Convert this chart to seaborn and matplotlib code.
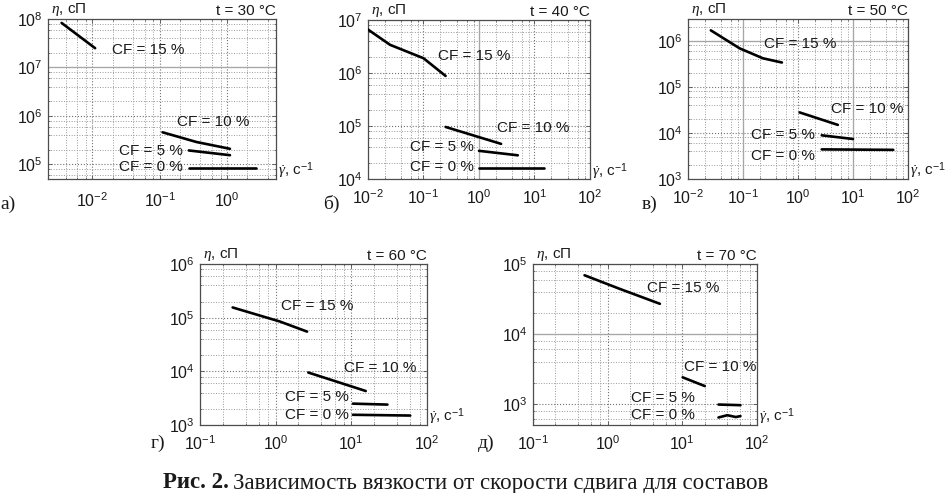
import matplotlib
matplotlib.use("Agg")
import matplotlib.pyplot as plt
import matplotlib.ticker as mticker
import pandas as pd
import seaborn as sns

TEMPS = [30, 40, 50, 60, 70]
PANEL_LETTERS = ["а)", "б)", "в)", "г)", "д)"]
SERIES = ["CF = 15 %", "CF = 10 %", "CF = 5 %", "CF = 0 %"]

# t = 30 °C
T30_CF15_X = [3.5e-3, 1.1e-2]
T30_CF15_Y = [8.3e7, 2.5e7]
T30_CF10_X = [0.11, 0.35, 1.1]
T30_CF10_Y = [4.6e5, 2.9e5, 2.1e5]
T30_CF5_X = [0.27, 1.1]
T30_CF5_Y = [1.94e5, 1.55e5]
T30_CF0_X = [0.27, 2.7]
T30_CF0_Y = [8.3e4, 8.3e4]

# t = 40 °C
T40_CF15_X = [0.01, 0.025, 0.1, 0.25]
T40_CF15_Y = [6.6e6, 3.4e6, 1.9e6, 8.8e5]
T40_CF10_X = [0.25, 2.5]
T40_CF10_Y = [9.6e4, 4.6e4]
T40_CF5_X = [1.0, 5.0]
T40_CF5_Y = [3.4e4, 2.8e4]
T40_CF0_X = [1.0, 15]
T40_CF0_Y = [1.6e4, 1.6e4]

# t = 50 °C
T50_CF15_X = [0.026, 0.087, 0.23, 0.51]
T50_CF15_Y = [1.7e6, 6.9e5, 4.2e5, 3.4e5]
T50_CF10_X = [1.07, 5.3]
T50_CF10_Y = [2.8e4, 1.5e4]
T50_CF5_X = [2.7, 10]
T50_CF5_Y = [8.9e3, 7.4e3]
T50_CF0_X = [2.7, 54]
T50_CF0_Y = [4.4e3, 4.3e3]

# t = 60 °C
T60_CF15_X = [0.27, 1.13, 2.6]
T60_CF15_Y = [1.55e5, 8.5e4, 5.5e4]
T60_CF10_X = [2.7, 15.5]
T60_CF10_Y = [9.5e3, 4.3e3]
T60_CF5_X = [10.5, 30]
T60_CF5_Y = [2.5e3, 2.4e3]
T60_CF0_X = [10.5, 60]
T60_CF0_Y = [1.55e3, 1.5e3]

# t = 70 °C
T70_CF15_X = [0.49, 1.46, 5.0]
T70_CF15_Y = [6.9e4, 4.4e4, 2.7e4]
T70_CF10_X = [10.1, 20]
T70_CF10_Y = [2.4e3, 1.8e3]
T70_CF5_X = [30.5, 60]
T70_CF5_Y = [9.8e2, 9.6e2]
T70_CF0_X = [30.5, 40, 52, 60]
T70_CF0_Y = [6.4e2, 6.9e2, 6.5e2, 6.7e2]

DATA = {
    30: [(T30_CF15_X, T30_CF15_Y), (T30_CF10_X, T30_CF10_Y), (T30_CF5_X, T30_CF5_Y), (T30_CF0_X, T30_CF0_Y)],
    40: [(T40_CF15_X, T40_CF15_Y), (T40_CF10_X, T40_CF10_Y), (T40_CF5_X, T40_CF5_Y), (T40_CF0_X, T40_CF0_Y)],
    50: [(T50_CF15_X, T50_CF15_Y), (T50_CF10_X, T50_CF10_Y), (T50_CF5_X, T50_CF5_Y), (T50_CF0_X, T50_CF0_Y)],
    60: [(T60_CF15_X, T60_CF15_Y), (T60_CF10_X, T60_CF10_Y), (T60_CF5_X, T60_CF5_Y), (T60_CF0_X, T60_CF0_Y)],
    70: [(T70_CF15_X, T70_CF15_Y), (T70_CF10_X, T70_CF10_Y), (T70_CF5_X, T70_CF5_Y), (T70_CF0_X, T70_CF0_Y)],
}

XLIMS = [(2.2e-3, 5.3), (1e-2, 1e2), (1e-2, 1e2), (1e-1, 1e2), (1e-1, 1e2)]
YLIMS = [(5e4, 1e8), (1e4, 1e7), (1e3, 3e6), (1e3, 1e6), (5e2, 1e5)]
# solid grey grid lines seen in the original
SOLID_H = [[1e7], [], [1e6], [], [1e4]]
SOLID_V = [[], [1e0], [1e-1, 1e1], [], []]

# layout, in pixels of the 953x493 picture
W, H = 953, 493
AX_BOXES = [(48, 19, 276, 179), (368, 20, 590, 179), (688, 19, 908, 179),
            (200, 264, 427, 425), (533, 264, 757, 425)]
CF_LABEL_POS = [
    [(148, 50), (213, 122), (151, 151), (151, 167)],
    [(474, 56), (533, 128), (442, 147), (442, 167)],
    [(800, 44), (867, 109), (783, 135), (783, 156)],
    [(317, 306), (380, 368), (317, 397), (317, 415)],
    [(683, 288), (720, 367), (663, 398), (663, 415)],
]
LETTER_POS = [(8, 204), (331, 204), (650, 204), (158, 443), (486, 443)]
XTICK_PAD = [9, 7, 7, 7, 7]

sns.set_theme(style="ticks")
plt.rcParams["font.family"] = ["Liberation Sans", "DejaVu Sans"]
plt.rcParams["mathtext.fontset"] = "custom"
plt.rcParams["mathtext.rm"] = "Liberation Sans"
plt.rcParams["mathtext.it"] = "Liberation Serif:italic"


def fx(px):
    return px / W


def fy(py):
    return 1 - py / H


fig = plt.figure(figsize=(W / 100, H / 100), dpi=100)
fig.patch.set_facecolor("white")

for i, t in enumerate(TEMPS):
    l, tp, r, b = AX_BOXES[i]
    ax = fig.add_axes([fx(l), fy(b), (r - l) / W, (b - tp) / H])
    rows = []
    for name, (xs, ys) in zip(SERIES, DATA[t]):
        for x, y in zip(xs, ys):
            rows.append({"series": name, "x": x, "y": y})
    df = pd.DataFrame(rows)
    ax.set_xscale("log")
    ax.set_yscale("log")
    sns.lineplot(df, x="x", y="y", units="series", estimator=None, sort=False,
                 color="black", lw=1.9, ax=ax, zorder=5)
    ax.set_xlim(XLIMS[i])
    ax.set_ylim(YLIMS[i])
    ax.set_xlabel("")
    ax.set_ylabel("")
    ax.xaxis.set_major_locator(mticker.LogLocator(base=10, numticks=20))
    ax.yaxis.set_major_locator(mticker.LogLocator(base=10, numticks=20))
    ax.xaxis.set_minor_locator(mticker.LogLocator(base=10, subs=(2, 4, 6, 8), numticks=20))
    ax.yaxis.set_minor_locator(mticker.LogLocator(base=10, subs=(2, 4, 6, 8), numticks=20))
    ax.xaxis.set_minor_formatter(mticker.NullFormatter())
    ax.yaxis.set_minor_formatter(mticker.NullFormatter())
    ax.grid(which="major", ls=":", color="0.45", lw=0.8)
    ax.grid(which="minor", ls=":", color="0.6", lw=0.7)
    for v in SOLID_H[i]:
        ax.axhline(v, color="0.65", lw=0.9, zorder=1)
    for v in SOLID_V[i]:
        ax.axvline(v, color="0.65", lw=0.9, zorder=1)
    ax.tick_params(which="both", direction="in", top=True, right=True, colors="0.3",
                   labelcolor="0.1", labelsize=11.5)
    ax.tick_params(axis="x", pad=XTICK_PAD[i])
    ax.tick_params(axis="y", pad=4)
    ax.tick_params(which="major", length=3, width=0.6)
    ax.tick_params(which="minor", length=1.5, width=0.5)
    for s in ax.spines.values():
        s.set_color("0.3")
        s.set_linewidth(0.9)

    ax.text(0.015, 1.005, r"$\eta$, сП", transform=ax.transAxes, ha="left", va="bottom",
            fontsize=11, color="0.1")
    ax.text(1.0, 1.005, f"t = {t} °C", transform=ax.transAxes, ha="right", va="bottom",
            fontsize=11, color="0.1")
    ax.text(1.01, 0.05, r"$\dot{\gamma}$, с$^{-1}$", transform=ax.transAxes, ha="left",
            va="center", fontsize=11, color="0.1")
    for name, (px, py) in zip(SERIES, CF_LABEL_POS[i]):
        fig.text(fx(px), fy(py), name, ha="center", va="center", fontsize=11,
                 color="0.1", zorder=10)
    lx, ly = LETTER_POS[i]
    fig.text(fx(lx), fy(ly), PANEL_LETTERS[i], ha="center", va="center",
             fontsize=14, family=["Liberation Serif", "DejaVu Serif"], color="0.1")

# caption: bold "Рис. 2." followed by regular text
renderer = fig.canvas.get_renderer()
cap_left, cap_y = 163, 483
bold = fig.text(fx(cap_left), fy(cap_y), "Рис. 2.", ha="left", va="center", fontsize=16.5,
                weight="bold", family=["Liberation Serif", "DejaVu Serif"], color="0.1")
bb = bold.get_window_extent(renderer=renderer)
fig.text(bb.x1 / fig.bbox.width + 4 / W, fy(cap_y),
         "Зависимость вязкости от скорости сдвига для составов", ha="left", va="center",
         fontsize=16.5, family=["Liberation Serif", "DejaVu Serif"], color="0.1")

fig.savefig("out.png", dpi=100)
